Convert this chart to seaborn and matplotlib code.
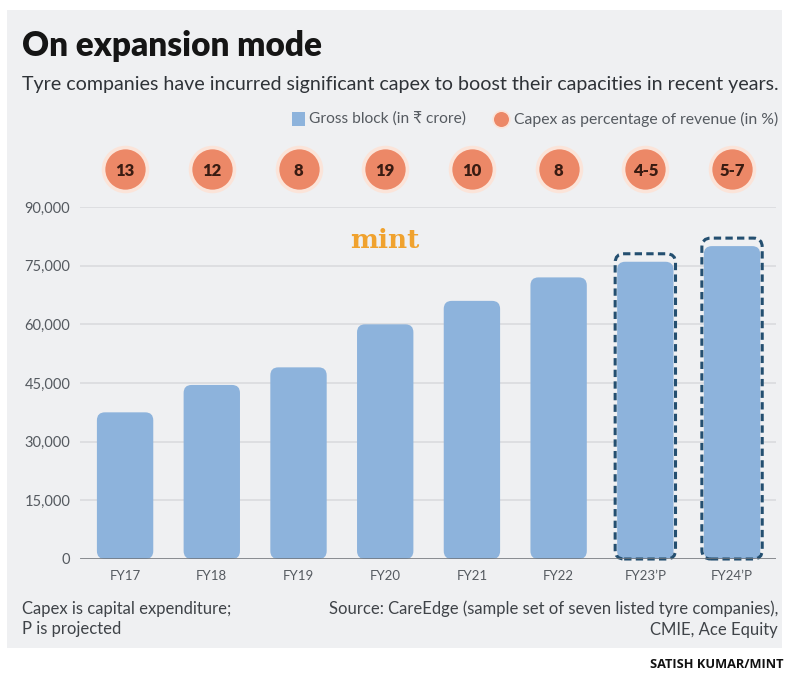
import matplotlib
matplotlib.use("Agg")
import matplotlib.pyplot as plt
import seaborn as sns
import pandas as pd
from matplotlib.patches import FancyBboxPatch, Rectangle
from matplotlib.lines import Line2D
from matplotlib.ticker import FuncFormatter

# ---------------- data ----------------
years = ["FY17", "FY18", "FY19", "FY20", "FY21", "FY22", "FY23\u2019P", "FY24\u2019P"]
gross_block = [37500, 44500, 49000, 60000, 66000, 72000, 76000, 80000]
capex_pct = ["13", "12", "8", "19", "10", "8", "4-5", "5-7"]
projected = [False, False, False, False, False, False, True, True]
y_ticks = [0, 15000, 30000, 45000, 60000, 75000, 90000]

title = "On expansion mode"
subtitle = "Tyre companies have incurred significant capex to boost their capacities in recent years."
legend_bar = "Gross block (in \u20b9 crore)"
legend_dot = "Capex as percentage of revenue (in %)"
note = "Capex is capital expenditure;\nP is projected"
source = "Source: CareEdge (sample set of seven listed tyre companies),\nCMIE, Ace Equity"
credit = "SATISH KUMAR/MINT"

# ---------------- style ----------------
BAR = "#8db3dc"
DOT = "#ec8867"
DOT_EDGE = "#fbe4d9"
PANEL = "#eff0f2"
TXT = "#555a60"
DASH = "#244f70"

sns.set_theme(style="white")
FAM = ["Lato", "DejaVu Sans"]
plt.rcParams["font.family"] = FAM

W, H = 786, 676
fig = plt.figure(figsize=(W / 100, H / 100), dpi=100)
fig.patch.set_facecolor("white")


def fx(x):
    return x / W


def fy(y):
    return 1 - y / H


fig.patches.append(Rectangle((fx(7), fy(648)), (782 - 7) / W, (648 - 10) / H,
                             transform=fig.transFigure, facecolor=PANEL,
                             edgecolor="none", zorder=-5))

renderer = fig.canvas.get_renderer()


def fit(t, target):
    w = t.get_window_extent(renderer).width
    t.set_fontsize(t.get_fontsize() * target / w)
    return t


# ---------------- axes ----------------
ax = fig.add_axes([fx(80), fy(559), (776 - 80) / W, (559 - 207) / H])
ax.set_facecolor("none")
ax.set_zorder(2)
df = pd.DataFrame({"year": years, "gross": gross_block})
sns.barplot(data=df, x="year", y="gross", color=BAR, saturation=1,
            width=0.65, ax=ax, zorder=3)
ax.set_xlim(-0.52, 7.507)
ax.set_ylim(0, 90000)

# rounded bars, derived from seaborn's bar patches
bb = ax.get_window_extent(renderer)
px_x = bb.width / (ax.get_xlim()[1] - ax.get_xlim()[0])
px_y = bb.height / (ax.get_ylim()[1] - ax.get_ylim()[0])
aspect = px_x / px_y
r = 8 / px_x
bars = list(ax.patches)
for p, proj in zip(bars, projected):
    x0, w, h = p.get_x(), p.get_width(), p.get_height()
    p.set_visible(False)
    ax.add_patch(FancyBboxPatch((x0, 0), w, h,
                                boxstyle=f"round,pad=0,rounding_size={r}",
                                mutation_aspect=aspect, facecolor=BAR,
                                edgecolor="none", zorder=3))
    if proj:
        padx = 2 / px_x
        ax.add_patch(FancyBboxPatch((x0 - padx, 0), w + 2 * padx, h + 8 / px_y,
                                    boxstyle=f"round,pad=0,rounding_size={9 / px_x}",
                                    mutation_aspect=aspect, fill=False,
                                    edgecolor=DASH, linewidth=2.2,
                                    linestyle=(0, (2.4, 1.4)), zorder=4,
                                    clip_on=False))

ax.set_yticks(y_ticks)
ax.yaxis.set_major_formatter(FuncFormatter(lambda v, _: f"{int(v):,}"))
ax.set_xlabel("")
ax.set_ylabel("")
ax.yaxis.grid(True, color="#d8d9dc", linewidth=1.1)
ax.xaxis.grid(False)
ax.set_axisbelow(True)
for s in ax.spines.values():
    s.set_visible(False)
ax.axhline(0, color="#6f7378", linewidth=1.8, zorder=5)
ax.tick_params(axis="y", length=0, pad=7, labelsize=10.5, labelcolor=TXT)
ax.tick_params(axis="x", length=0, pad=8, labelsize=9.5, labelcolor=TXT)

# capex circles
xt = ax.get_xaxis_transform()
cy = (559 - 169) / (559 - 207)
ax.scatter(range(len(capex_pct)), [cy] * len(capex_pct), transform=xt,
           s=1000, c=DOT, edgecolors=DOT_EDGE, linewidths=2.6,
           clip_on=False, zorder=6)
for i, lbl in enumerate(capex_pct):
    ax.text(i, cy, lbl, transform=xt, ha="center", va="center_baseline",
            fontsize=12, fontweight="heavy", color="#3a1c12", zorder=7)

# mint watermark
ax.text(3.0, 81500, "mint", ha="center", va="center", fontsize=19,
        fontweight="bold", color="#f0a22e",
        family=["DejaVu Serif"], zorder=2)

# ---------------- texts ----------------
t = fig.text(fx(22), fy(56), title, fontsize=24, fontweight="heavy",
             color="#151515", ha="left", va="baseline")
fit(t, 300)
t = fig.text(fx(22), fy(90), subtitle, fontsize=13, color="#2f3338",
             ha="left", va="baseline")
fit(t, 756)

# legend
fig.patches.append(Rectangle((fx(292), fy(126)), 13 / W, 14 / H,
                             transform=fig.transFigure, facecolor=BAR,
                             edgecolor="none", zorder=3))
t = fig.text(fx(309), fy(119), legend_bar, fontsize=9.5, color=TXT,
             ha="left", va="center", family=FAM)
fit(t, 157)
fig.add_artist(Line2D([fx(501)], [fy(119)], marker="o", markersize=12,
                      markerfacecolor=DOT, markeredgecolor=DOT_EDGE,
                      markeredgewidth=1.2, transform=fig.transFigure))
t = fig.text(fx(514), fy(119), legend_dot, fontsize=9.5, color=TXT,
             ha="left", va="center")
fit(t, 264)

# footer
t = fig.text(fx(22), fy(619), note, fontsize=10, color="#3f4348",
             ha="left", va="center", linespacing=1.35)
t1 = fig.text(0, 0, "Capex is capital expenditure;", fontsize=10)
sz = 10 * 210 / t1.get_window_extent(renderer).width
t1.remove()
t.set_fontsize(sz)
t = fig.text(fx(778), fy(619), source, fontsize=sz, color="#3f4348",
             ha="right", va="center", linespacing=1.35, multialignment="right")

fig.text(fx(783), fy(664), credit, fontsize=9.2, fontweight="bold",
         color="#111111", ha="right", va="center", family=["Open Sans", "DejaVu Sans"])

fig.savefig("out.png", dpi=100, facecolor="white")
